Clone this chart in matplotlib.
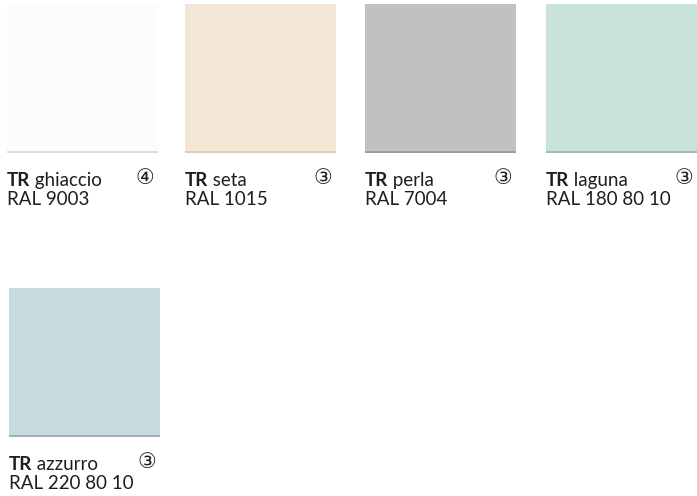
import matplotlib
matplotlib.use('Agg')
import matplotlib.pyplot as plt
from matplotlib.patches import Rectangle

# ---------------------------------------------------------------------------
# Colour swatch data
# ---------------------------------------------------------------------------
NAMES  = ['ghiaccio', 'seta', 'perla', 'laguna', 'azzurro']
CODES  = ['RAL 9003', 'RAL 1015', 'RAL 7004', 'RAL 180 80 10', 'RAL 220 80 10']
COLORS = ['#FBFCFC', '#F3E6D4', '#C0C1C3', '#C9E3DA', '#C9DAE1']
EDGES  = ['#DCDEDE', '#E0CDB3', '#9C9EA1', '#9CBFB2', '#9CB1BA']
BADGES = ['④', '③', '③', '③', '③']

C_TEXT = '#1E1E1E'
FONT = ['Lato', 'DejaVu Sans']
BADGE_FONT = ['DejaVu Sans', 'Noto Sans CJK JP']

# layout (pixel space)
W, H = 697, 496
X0 = [7, 185, 365, 546, 9]
Y0 = [4, 4, 4, 4, 288]
SW, SH = 151, 149

fig = plt.figure(figsize=(W / 100, H / 100), dpi=100, facecolor='white')
ax = fig.add_axes([0, 0, 1, 1])
ax.set_xlim(0, W); ax.set_ylim(H, 0)
ax.axis('off')

for name, code, col, edge, badge, x, y in zip(NAMES, CODES, COLORS, EDGES, BADGES, X0, Y0):
    ax.add_patch(Rectangle((x, y), SW, SH, facecolor=col, edgecolor='none'))
    # darker bottom lip of the tile
    ax.add_patch(Rectangle((x, y + SH - 2.5), SW, 2.5, facecolor=edge, edgecolor='none'))

    base1 = y + SH + 33
    t = ax.text(x, base1, 'TR', fontsize=13.5, fontweight='bold', color=C_TEXT,
                family=FONT, va='baseline', ha='left')
    ax.annotate(' ' + name, xy=(1, 0), xycoords=t, va='bottom', ha='left',
                fontsize=13.5, color=C_TEXT, family=FONT)
    ax.text(x, base1 + 19, code, fontsize=13.5, color=C_TEXT, family=FONT,
            va='baseline', ha='left')
    ax.text(x + SW - 13, base1 - 8, badge, fontsize=15, color=C_TEXT,
            family=BADGE_FONT, va='center', ha='center')

fig.savefig('out.png', dpi=100, facecolor='white')
